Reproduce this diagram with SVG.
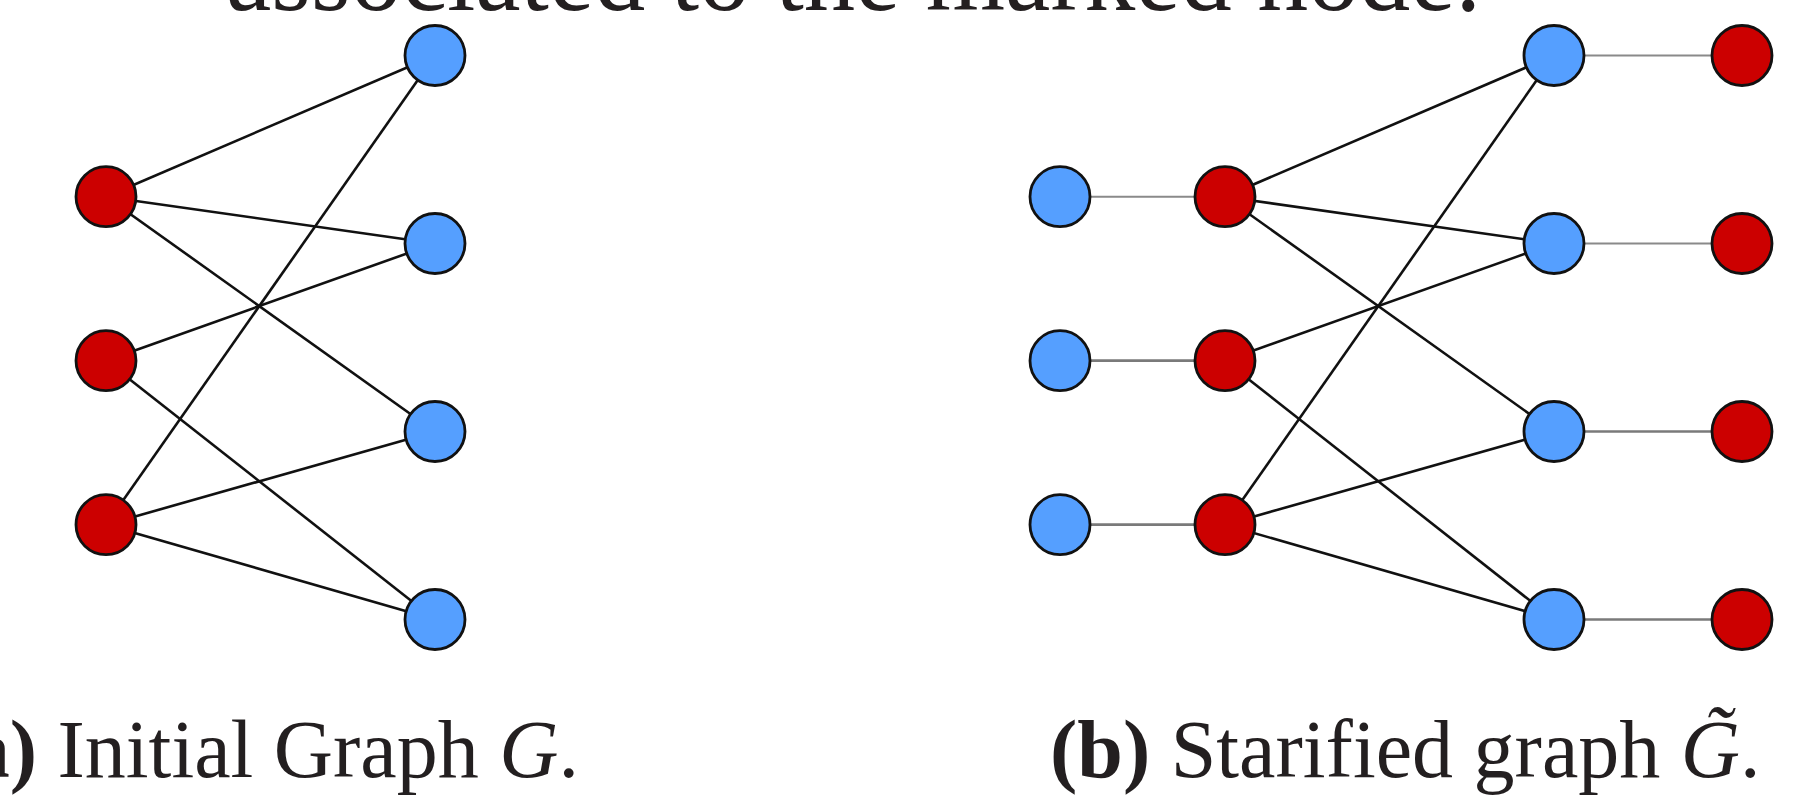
<svg xmlns="http://www.w3.org/2000/svg" width="1814" height="801" viewBox="0 0 1814 801">
<style>
.red{fill:#cc0000;stroke:#111;stroke-width:2.8}
.blue{fill:#559fff;stroke:#111;stroke-width:2.8}
.e{stroke:#111;stroke-width:2.6;fill:none}
.g{stroke:#8a8a8a;stroke-width:1.9;fill:none}
.g2{stroke:#7a7a7a;stroke-width:2.7;fill:none}
.t{font-family:"Liberation Serif","Times New Roman",serif;fill:#231f20}
</style>
<rect width="1814" height="801" fill="#fff"/>
<text class="t" x="226" y="10" font-size="107" textLength="1255" lengthAdjust="spacingAndGlyphs">associated to the marked node.</text>
<g id="connectors">
<line class="e" x1="106" y1="196.7" x2="435" y2="55.5"/>
<line class="e" x1="106" y1="196.7" x2="435" y2="243.5"/>
<line class="e" x1="106" y1="196.7" x2="435" y2="431.5"/>
<line class="e" x1="106" y1="360.7" x2="435" y2="243.5"/>
<line class="e" x1="106" y1="360.7" x2="435" y2="619.5"/>
<line class="e" x1="106" y1="524.7" x2="435" y2="55.5"/>
<line class="e" x1="106" y1="524.7" x2="435" y2="431.5"/>
<line class="e" x1="106" y1="524.7" x2="435" y2="619.5"/>
<line class="e" x1="1225" y1="196.7" x2="1554" y2="55.5"/>
<line class="e" x1="1225" y1="196.7" x2="1554" y2="243.5"/>
<line class="e" x1="1225" y1="196.7" x2="1554" y2="431.5"/>
<line class="e" x1="1225" y1="360.7" x2="1554" y2="243.5"/>
<line class="e" x1="1225" y1="360.7" x2="1554" y2="619.5"/>
<line class="e" x1="1225" y1="524.7" x2="1554" y2="55.5"/>
<line class="e" x1="1225" y1="524.7" x2="1554" y2="431.5"/>
<line class="e" x1="1225" y1="524.7" x2="1554" y2="619.5"/>
<line class="g" x1="1060" y1="196.7" x2="1225" y2="196.7"/>
<line class="g2" x1="1060" y1="360.7" x2="1225" y2="360.7"/>
<line class="g2" x1="1060" y1="524.7" x2="1225" y2="524.7"/>
<line class="g" x1="1554" y1="55.5" x2="1742" y2="55.5"/>
<line class="g" x1="1554" y1="243.5" x2="1742" y2="243.5"/>
<line class="g2" x1="1554" y1="431.5" x2="1742" y2="431.5"/>
<line class="g2" x1="1554" y1="619.5" x2="1742" y2="619.5"/>
</g>
<g id="a-r1"><circle class="red" cx="106" cy="196.7" r="30"/></g>
<g id="a-r2"><circle class="red" cx="106" cy="360.7" r="30"/></g>
<g id="a-r3"><circle class="red" cx="106" cy="524.7" r="30"/></g>
<g id="a-b1"><circle class="blue" cx="435" cy="55.5" r="30"/></g>
<g id="a-b2"><circle class="blue" cx="435" cy="243.5" r="30"/></g>
<g id="a-b3"><circle class="blue" cx="435" cy="431.5" r="30"/></g>
<g id="a-b4"><circle class="blue" cx="435" cy="619.5" r="30"/></g>
<g id="b-s1"><circle class="blue" cx="1060" cy="196.7" r="30"/></g>
<g id="b-s2"><circle class="blue" cx="1060" cy="360.7" r="30"/></g>
<g id="b-s3"><circle class="blue" cx="1060" cy="524.7" r="30"/></g>
<g id="b-r1"><circle class="red" cx="1225" cy="196.7" r="30"/></g>
<g id="b-r2"><circle class="red" cx="1225" cy="360.7" r="30"/></g>
<g id="b-r3"><circle class="red" cx="1225" cy="524.7" r="30"/></g>
<g id="b-b1"><circle class="blue" cx="1554" cy="55.5" r="30"/></g>
<g id="b-b2"><circle class="blue" cx="1554" cy="243.5" r="30"/></g>
<g id="b-b3"><circle class="blue" cx="1554" cy="431.5" r="30"/></g>
<g id="b-b4"><circle class="blue" cx="1554" cy="619.5" r="30"/></g>
<g id="b-t1"><circle class="red" cx="1742" cy="55.5" r="30"/></g>
<g id="b-t2"><circle class="red" cx="1742" cy="243.5" r="30"/></g>
<g id="b-t3"><circle class="red" cx="1742" cy="431.5" r="30"/></g>
<g id="b-t4"><circle class="red" cx="1742" cy="619.5" r="30"/></g>
<text class="t" x="579" y="777" font-size="82" text-anchor="end"><tspan font-weight="bold">(a)</tspan> Initial Graph <tspan font-style="italic">G</tspan>.</text>
<text class="t" x="1050" y="777" font-size="82"><tspan font-weight="bold">(b)</tspan> Starified graph <tspan font-style="italic">G̃</tspan>.</text>
</svg>
